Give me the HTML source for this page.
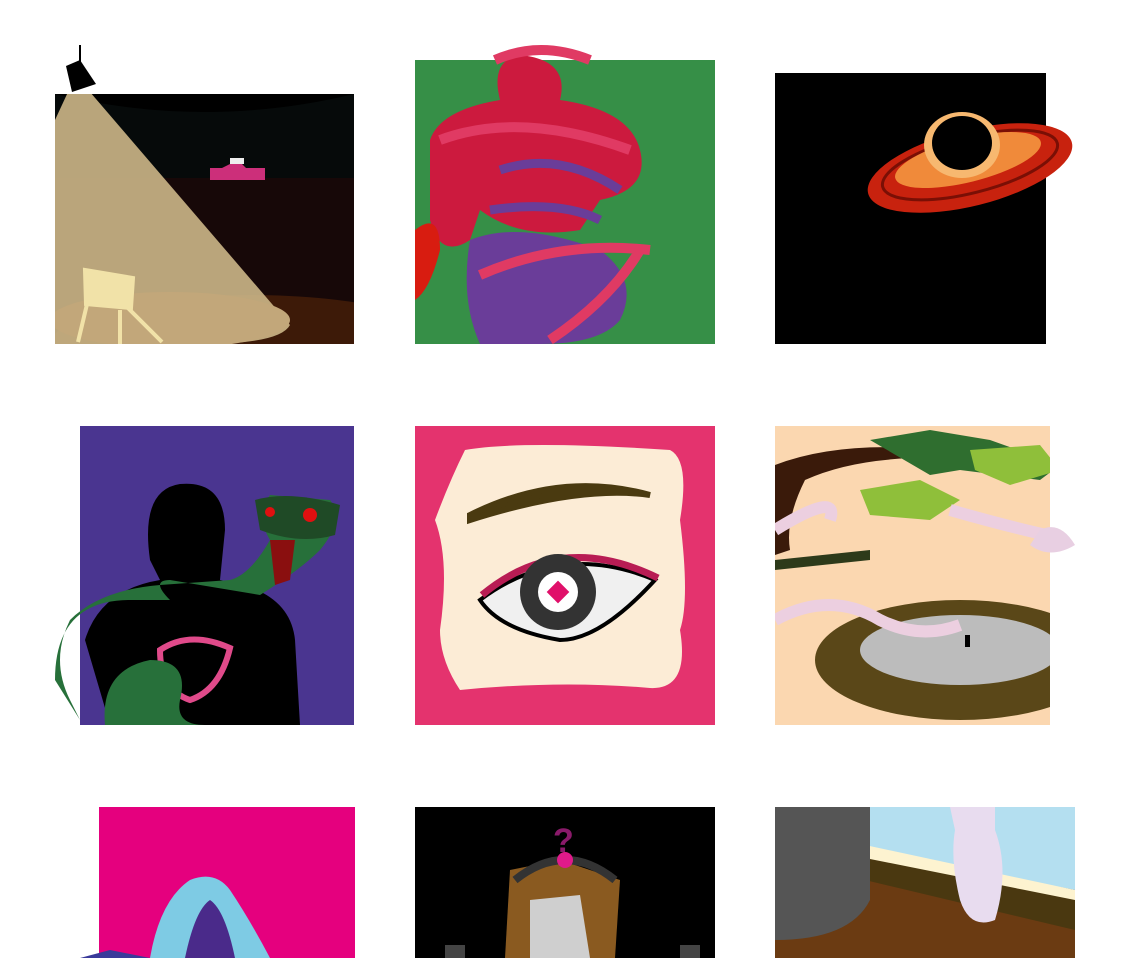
<!DOCTYPE html>
<html><head><meta charset="utf-8"><style>
html,body{margin:0;padding:0;background:#fff;width:1132px;height:958px;overflow:hidden}
svg{display:block}
</style></head><body>
<svg width="1132" height="958" viewBox="0 0 1132 958">
<defs>
<clipPath id="c1"><rect x="55" y="94" width="299" height="250"/></clipPath>
<clipPath id="c6"><rect x="775" y="426" width="275" height="299"/></clipPath>
</defs>
<!-- Tile 1: stage spotlight -->
<g>
<g clip-path="url(#c1)">
<rect x="55" y="94" width="299" height="250" fill="#170808"/>
<path d="M55 94H354V178H55Z" fill="#060a0a"/>
<path d="M55 94 Q205 130 354 94Z" fill="#000"/>
<ellipse cx="250" cy="345" rx="200" ry="50" fill="#3d1a08"/>
<path d="M68 92 L90 92 L290 325 Q280 344 200 344 L55 344 L55 120Z" fill="#c9b386" opacity="0.92"/>
<ellipse cx="170" cy="320" rx="120" ry="28" fill="#c2a77a"/>
<path d="M210 168h55v12h-55z M218 170 l20-10 l10 10z" fill="#cc2f7a"/>
<rect x="230" y="158" width="14" height="6" fill="#eee"/>
<g stroke="#f1e2a8" stroke-width="4" fill="none"><path d="M85 270l48 8-2 30-45-4z" fill="#f1e2a8"/><path d="M88 300l-10 42M120 310v34M128 308l34 34"/></g>
</g>
<path d="M80 45v20" stroke="#000" stroke-width="2"/>
<path d="M66 66l14-6 16 24-24 8z" fill="#000"/>
</g>
<!-- Tile 2: red figure on green -->
<g>
<rect x="415" y="60" width="300" height="284" fill="#368f47"/>
<path d="M430 140 Q440 110 500 100 Q490 60 520 55 Q570 60 560 100 Q630 110 640 150 Q650 190 600 200 L580 230 Q520 240 480 210 L470 240 Q440 260 430 220Z" fill="#cc1a3e"/>
<path d="M470 240 Q520 220 600 250 Q640 280 620 320 Q600 344 540 344 L480 344 Q460 300 470 240Z" fill="#6a3d99"/>
<path d="M415 230 Q440 210 440 250 Q430 290 415 300Z" fill="#d81c10"/>
<path d="M495 60 Q540 40 590 60 M440 140 Q520 110 630 150 M480 275 Q560 240 650 250 M550 340 Q610 300 640 250" stroke="#e03a63" stroke-width="10" fill="none"/>
<path d="M500 170 Q560 150 620 190 M490 210 Q560 200 600 220" stroke="#6a3d99" stroke-width="9" fill="none"/>
</g>
<!-- Tile 3: black hole -->
<g>
<rect x="775" y="73" width="271" height="271" fill="#000"/>
<ellipse cx="970" cy="168" rx="105" ry="38" transform="rotate(-14 970 168)" fill="#c8220e"/>
<ellipse cx="970" cy="165" rx="90" ry="28" transform="rotate(-14 970 165)" fill="none" stroke="#7a0f05" stroke-width="3"/>
<ellipse cx="968" cy="160" rx="75" ry="22" transform="rotate(-14 968 160)" fill="#f08a3a"/>
<ellipse cx="962" cy="145" rx="38" ry="33" fill="#f7b870"/>
<ellipse cx="962" cy="143" rx="30" ry="27" fill="#000"/>
</g>
<!-- Tile 4: person with snake -->
<g>
<rect x="80" y="426" width="274" height="299" fill="#4a3590"/>
<path d="M110 725 L85 640 Q100 590 160 580 L150 560 Q140 490 180 484 Q225 480 225 530 L220 580 Q290 590 295 640 L300 725Z" fill="#000"/>
<path d="M55 680 Q55 600 130 600 L170 600 Q150 580 170 580 L260 595 Q300 570 320 550 Q345 520 330 500 L270 495 Q255 515 270 540 Q250 575 230 580 L160 585 Q100 590 70 620 Q50 660 70 700 L80 720Z" fill="#27703a"/>
<path d="M255 500 Q290 490 340 505 L335 535 Q300 545 260 530Z" fill="#1f4a26"/>
<circle cx="270" cy="512" r="5" fill="#e01010"/><circle cx="310" cy="515" r="7" fill="#e01010"/>
<path d="M270 540 L295 540 L290 580 L275 585Z" fill="#8a0f0f"/>
<path d="M160 650 Q190 630 230 648 Q220 690 190 700 Q160 690 160 650Z" fill="none" stroke="#e04a8a" stroke-width="6"/>
<path d="M105 725 Q100 670 150 660 Q190 660 180 700 Q175 725 205 725Z" fill="#27703a"/>
</g>
<!-- Tile 5: eye -->
<g>
<rect x="415" y="426" width="300" height="299" fill="#e4336e"/>
<path d="M465 450 Q520 440 670 450 Q690 460 680 520 Q690 600 680 630 Q690 690 650 688 Q560 680 460 690 Q440 660 440 630 Q450 560 435 520 Q450 480 465 450Z" fill="#fcecd6"/>
<path d="M470 515 Q560 470 650 495 Q580 485 470 520Z" fill="#4a3a10" stroke="#4a3a10" stroke-width="6"/>
<path d="M480 600 Q560 540 655 580 Q600 640 560 640 Q500 630 480 600Z" fill="#f0f0f0" stroke="#000" stroke-width="4"/>
<path d="M482 595 Q560 530 658 578" stroke="#b81c54" stroke-width="7" fill="none"/>
<circle cx="558" cy="592" r="38" fill="#333"/>
<circle cx="558" cy="592" r="20" fill="#fff"/>
<rect x="550" y="584" width="16" height="16" transform="rotate(45 558 592)" fill="#e0106a"/>
</g>
<!-- Tile 6: pond and tree -->
<g>
<g clip-path="url(#c6)">
<rect x="775" y="426" width="275" height="299" fill="#fbd7b0"/>
<path d="M775 560 L870 550 L870 560 L775 570Z" fill="#2d3a1a"/>
<path d="M775 465 Q840 440 940 450 L950 458 Q860 455 805 480 Q785 520 790 550 L775 555Z" fill="#3a1a0a"/>
<path d="M870 440 L930 430 L990 440 L1060 465 L1040 480 L960 470 L930 475 Z" fill="#2f6e2f"/>
<path d="M860 490 L920 480 L960 500 L930 520 L870 515Z" fill="#8fbf3a"/>
<path d="M970 450 L1040 445 L1060 470 L1010 485 L975 470Z" fill="#8fbf3a"/>
<ellipse cx="960" cy="660" rx="145" ry="60" fill="#5a4718"/>
<ellipse cx="960" cy="650" rx="100" ry="35" fill="#bcbcbc"/>
<path d="M775 620 Q830 590 880 620 Q920 640 960 625 M775 530 Q840 490 830 520 M950 510 Q1020 530 1070 540" stroke="#eccfe0" stroke-width="12" fill="none"/>
<rect x="965" y="635" width="5" height="12" fill="#000"/>
</g>
<path d="M1040 530 Q1060 520 1075 545 Q1050 560 1030 545Z" fill="#e8cfe2"/>
</g>
<!-- Tile 7: hooded figure -->
<g>
<rect x="99" y="807" width="256" height="151" fill="#e5007e"/>
<path d="M150 958 Q160 900 190 880 Q215 870 230 890 Q250 920 270 958Z" fill="#7ecbe4"/>
<path d="M185 958 Q195 910 210 900 Q225 910 235 958Z" fill="#4a2a8a"/>
<path d="M80 958 L110 950 L150 958Z" fill="#3a3a9a"/>
</g>
<!-- Tile 8: box with question mark -->
<g>
<rect x="415" y="807" width="300" height="151" fill="#000"/>
<path d="M510 870 L560 860 L620 880 L615 958 L505 958Z" fill="#8a5a20"/>
<path d="M530 900 L580 895 L590 958 L530 958Z" fill="#cfcfcf"/>
<path d="M515 880 Q565 840 615 880" stroke="#333" stroke-width="8" fill="none"/>
<text x="553" y="852" font-family="Liberation Sans, sans-serif" font-weight="bold" font-size="34" fill="#8a1a6a">?</text>
<circle cx="565" cy="860" r="8" fill="#e01a8a"/>
<rect x="445" y="945" width="20" height="13" fill="#444"/><rect x="680" y="945" width="20" height="13" fill="#444"/>
</g>
<!-- Tile 9: window and hand -->
<g>
<rect x="775" y="807" width="300" height="151" fill="#6b3b12"/>
<path d="M860 807 H1075 V890 L870 850Z" fill="#b4dff0"/>
<path d="M865 850 L1075 895 V930 L865 880Z" fill="#4a3810"/>
<path d="M865 845 L1075 890 V900 L865 858Z" fill="#fdf3d0"/>
<path d="M775 807 H870 V900 Q850 940 775 940Z" fill="#555"/>
<path d="M950 807 H995 V830 Q1010 870 995 920 Q970 930 960 900 Q950 860 955 830Z" fill="#e8dcef"/>
</g>
</svg>
</body></html>
